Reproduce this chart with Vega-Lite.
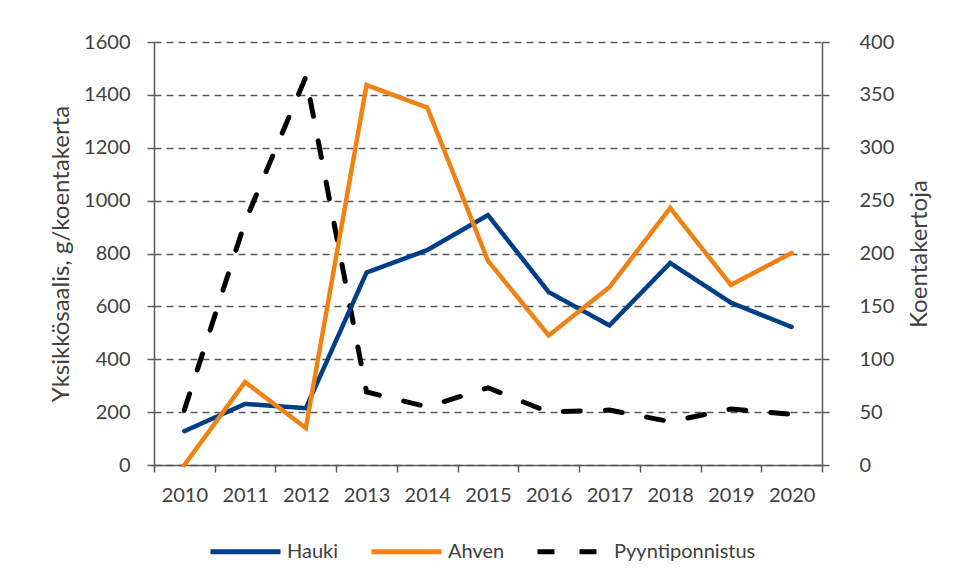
{
  "$schema": "https://vega.github.io/schema/vega-lite/v6.json",
  "width": 668,
  "height": 423,
  "autosize": {"type": "none"},
  "padding": {"left": 154, "top": 42, "right": 135, "bottom": 116},
  "background": "white",
  "config": {
    "font": "Lato",
    "view": {"stroke": null},
    "axis": {"labelFont": "Lato", "titleFont": "Lato", "labelFontSize": 20, "titleFontSize": 24, "labelColor": "#404040", "titleColor": "#404040", "titleFontWeight": "normal", "domainColor": "#595959", "tickColor": "#595959", "domainWidth": 1.5, "tickWidth": 1.5, "tickSize": 7},
    "legend": {"labelFont": "Lato", "labelFontSize": 20, "labelColor": "#404040"}
  },
  "data": {
    "values": [
      {"year": "2010", "series": "Hauki", "value": 128},
      {"year": "2011", "series": "Hauki", "value": 231},
      {"year": "2012", "series": "Hauki", "value": 215},
      {"year": "2013", "series": "Hauki", "value": 728},
      {"year": "2014", "series": "Hauki", "value": 813},
      {"year": "2015", "series": "Hauki", "value": 945},
      {"year": "2016", "series": "Hauki", "value": 654},
      {"year": "2017", "series": "Hauki", "value": 528},
      {"year": "2018", "series": "Hauki", "value": 764},
      {"year": "2019", "series": "Hauki", "value": 614},
      {"year": "2020", "series": "Hauki", "value": 522},
      {"year": "2010", "series": "Ahven", "value": 0},
      {"year": "2011", "series": "Ahven", "value": 314},
      {"year": "2012", "series": "Ahven", "value": 140},
      {"year": "2013", "series": "Ahven", "value": 1437},
      {"year": "2014", "series": "Ahven", "value": 1352},
      {"year": "2015", "series": "Ahven", "value": 772},
      {"year": "2016", "series": "Ahven", "value": 490},
      {"year": "2017", "series": "Ahven", "value": 673},
      {"year": "2018", "series": "Ahven", "value": 972},
      {"year": "2019", "series": "Ahven", "value": 681},
      {"year": "2020", "series": "Ahven", "value": 802},
      {"year": "2010", "series": "Pyyntiponnistus", "value": 52},
      {"year": "2011", "series": "Pyyntiponnistus", "value": 230},
      {"year": "2012", "series": "Pyyntiponnistus", "value": 367},
      {"year": "2013", "series": "Pyyntiponnistus", "value": 69},
      {"year": "2014", "series": "Pyyntiponnistus", "value": 55},
      {"year": "2015", "series": "Pyyntiponnistus", "value": 73},
      {"year": "2016", "series": "Pyyntiponnistus", "value": 50},
      {"year": "2017", "series": "Pyyntiponnistus", "value": 52},
      {"year": "2018", "series": "Pyyntiponnistus", "value": 41},
      {"year": "2019", "series": "Pyyntiponnistus", "value": 53},
      {"year": "2020", "series": "Pyyntiponnistus", "value": 48}
    ]
  },
  "encoding": {
    "x": {
      "field": "year",
      "type": "ordinal",
      "scale": {"type": "band", "paddingInner": 0, "paddingOuter": 0},
      "bandPosition": 0.5,
      "axis": {"title": null, "labelAngle": 0, "tickBand": "extent", "labelPadding": 13, "grid": false}
    },
    "color": {
      "field": "series",
      "type": "nominal",
      "scale": {"domain": ["Hauki", "Ahven", "Pyyntiponnistus"], "range": ["#003f87", "#f08214", "#000000"]},
      "legend": {"title": null, "orient": "none", "legendX": 54, "legendY": 472, "direction": "horizontal", "symbolType": "stroke", "symbolSize": 4900, "symbolStrokeWidth": 5, "labelOffset": 4, "columnPadding": 22}
    },
    "strokeDash": {
      "field": "series",
      "type": "nominal",
      "scale": {"domain": ["Hauki", "Ahven", "Pyyntiponnistus"], "range": [[1, 0], [1, 0], [17, 25]]},
      "legend": null
    }
  },
  "layer": [
    {
      "transform": [{"filter": "datum.series === 'Pyyntiponnistus'"}],
      "mark": {"type": "line", "strokeWidth": 5, "strokeCap": "round"},
      "encoding": {
        "y": {
          "field": "value",
          "type": "quantitative",
          "scale": {"domain": [0, 400]},
          "axis": {"orient": "right", "title": "Koentakertoja", "titleAngle": 270, "titleBaseline": "top", "format": "d", "values": [0, 50, 100, 150, 200, 250, 300, 350, 400], "grid": false, "labelPadding": 30, "titlePadding": 14}
        }
      }
    },
    {
      "transform": [{"filter": "datum.series !== 'Pyyntiponnistus'"}],
      "mark": {"type": "line", "strokeWidth": 4.5, "strokeCap": "round"},
      "encoding": {
        "y": {
          "field": "value",
          "type": "quantitative",
          "scale": {"domain": [0, 1600]},
          "axis": {"orient": "left", "title": "Yksikkösaalis, g/koentakerta", "format": "d", "values": [0, 200, 400, 600, 800, 1000, 1200, 1400, 1600], "grid": true, "gridDash": [7, 5], "gridColor": "#595959", "gridWidth": 1.5, "labelPadding": 17, "titlePadding": 10}
        }
      }
    }
  ],
  "resolve": {"scale": {"y": "independent"}}
}
